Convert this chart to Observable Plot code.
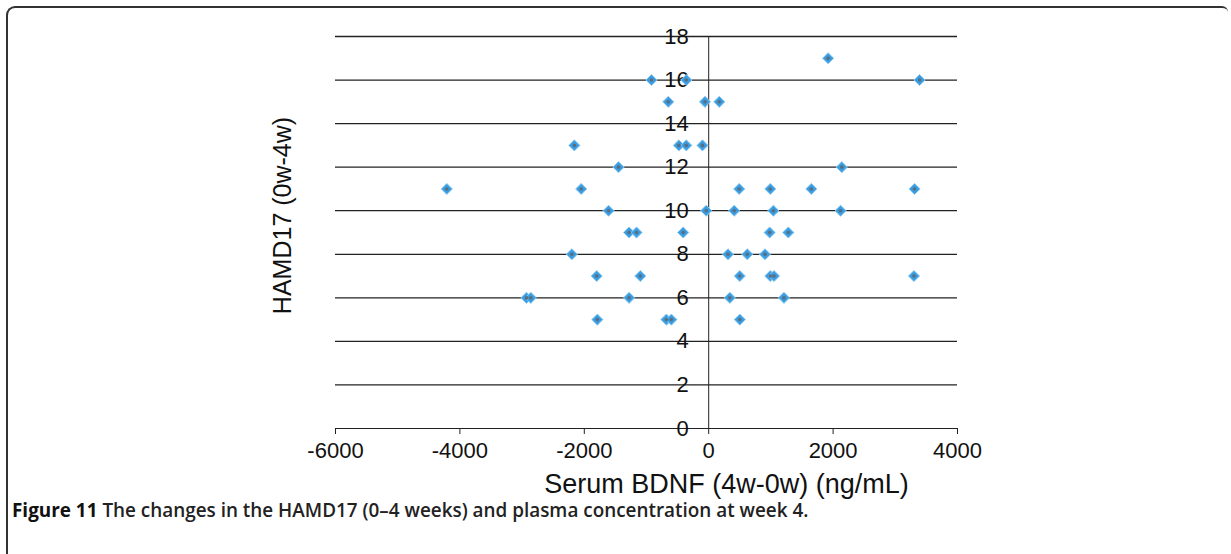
<!DOCTYPE html>
<html>
<head>
<meta charset="utf-8">
<script src="https://cdn.jsdelivr.net/npm/d3@7"></script>
<script src="https://cdn.jsdelivr.net/npm/@observablehq/plot@0.6"></script>
<style>
  html, body { margin: 0; padding: 0; background: #fff; }
  #wrap { position: relative; width: 1231px; height: 554px; overflow: hidden; }
  #frame { position: absolute; left: 6px; top: 6px; width: 1222px; height: 600px;
           border-top: 2px solid #333; border-left: 2px solid #333; border-top-left-radius: 9px; border-top-right-radius: 6px; box-sizing: border-box; }
  #chart { position: absolute; left: 0; top: 0; }
  #caption { position: absolute; left: 12px; top: 501px; font-family: "Open Sans", sans-serif; font-size: 18.9px;
             line-height: 1; color: #222; font-weight: 600; white-space: nowrap; }
  #caption b { font-weight: 700; color: #111; }
</style>
</head>
<body>
<div id="wrap">
  <div id="frame"></div>
  <div id="chart"></div>
  <div id="caption"><b>Figure 11</b> The changes in the HAMD17 (0–4 weeks) and plasma concentration at week 4.</div>
</div>
<script>
// Serum BDNF change (4w-0w), ng/mL
const bdnf = [-920, -360, 1920, 3390, -650, -60, 170, -2160, -480, -360, -100, -1450, 2140,
  -4210, -2050, 490, 990, 1650, 3310, -1610, -40, 410, 1040, 2120,
  -1280, -1160, -410, 980, 1280, -2200, 310, 620, 905,
  -1800, -1100, 500, 990, 1050, 3300, -2930, -2860, -1280, 340, 1210,
  -1790, -680, -600, 500];
// HAMD17 change (0w-4w)
const hamd = [16, 16, 17, 16, 15, 15, 15, 13, 13, 13, 13, 12, 12,
  11, 11, 11, 11, 11, 11, 10, 10, 10, 10, 10,
  9, 9, 9, 9, 9, 8, 8, 8, 8,
  7, 7, 7, 7, 7, 7, 6, 6, 6, 6, 6,
  5, 5, 5, 5];
const xTicks = [-6000, -4000, -2000, 0, 2000, 4000];
const yTicks = [0, 2, 4, 6, 8, 10, 12, 14, 16, 18];
const gridY = [2, 4, 6, 8, 10, 12, 14, 16, 18];
const xLabel = "Serum BDNF (4w-0w) (ng/mL)";
const yLabel = "HAMD17 (0w-4w)";

const points = bdnf.map((x, i) => ({x, y: hamd[i]}));

const chart = Plot.plot({
  width: 1231,
  height: 500,
  marginLeft: 335,
  marginRight: 274,
  marginTop: 36,
  marginBottom: 72,
  style: {fontFamily: "'Liberation Sans', Arial, sans-serif", background: "transparent"},
  x: {domain: [-6000, 4000], axis: null},
  y: {domain: [0, 18], axis: null},
  marks: [
    Plot.ruleY(gridY, {stroke: "#222", strokeWidth: 1.3}),
    Plot.ruleX([0], {y1: 0, y2: 18, stroke: "#222", strokeWidth: 1}),
    Plot.ruleY([0], {stroke: "#222", strokeWidth: 1}),
    Plot.axisX({ticks: xTicks, tickSize: 6, tickPadding: 8, fontSize: 22, label: null, tickFormat: d => String(d), stroke: "#222", color: "#111"}),
    Plot.text(yTicks, {x: 0, y: d => d, text: d => String(d), textAnchor: "end", dx: -20, fontSize: 22, fill: "#111"}),
    Plot.dot(points, {x: "x", y: "y", symbol: "diamond2", r: 5, fill: "#3a9de2", stroke: "#8ccaf0", strokeWidth: 1}),
    Plot.dot(points, {x: "x", y: "y", r: 1.8, fill: "#5b6e7e"}),
    Plot.text([yLabel], {frameAnchor: "left", textAnchor: "middle", rotate: -90, dx: -53, dy: -17, fontSize: 25, fill: "#111"}),
    Plot.text([xLabel], {frameAnchor: "bottom", textAnchor: "middle", dx: 80, dy: 64, fontSize: 27, fill: "#111"})
  ]
});
document.getElementById("chart").appendChild(chart);
</script>
</body>
</html>
